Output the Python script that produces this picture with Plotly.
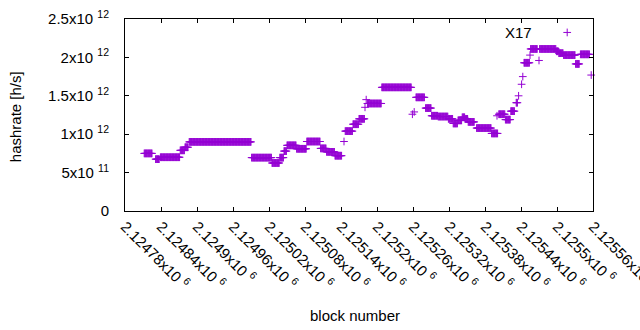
import plotly.graph_objects as go

# Runs of constant hashrate: first block, last block (exclusive), value [h/s]
run_start = [2124812, 2124831, 2124839, 2124872, 2124880, 2124887, 2124991, 2125025,
             2125038, 2125045, 2125050, 2125066, 2125083, 2125106, 2125116, 2125130,
             2125147, 2125160, 2125170, 2125184, 2125208, 2125265, 2125281, 2125291,
             2125302, 2125319, 2125327, 2125335, 2125342, 2125347, 2125352, 2125366,
             2125391, 2125403, 2125414, 2125423, 2125432, 2125445, 2125456, 2125471,
             2125499, 2125503, 2125511, 2125531, 2125539]
run_end = [2124826, 2124838, 2124872, 2124880, 2124886, 2124991, 2125025, 2125038,
           2125045, 2125050, 2125066, 2125083, 2125106, 2125116, 2125130, 2125142,
           2125160, 2125170, 2125180, 2125208, 2125258, 2125280, 2125291, 2125302,
           2125319, 2125327, 2125335, 2125342, 2125347, 2125352, 2125363, 2125391,
           2125402, 2125414, 2125423, 2125430, 2125435, 2125455, 2125468, 2125499,
           2125503, 2125511, 2125531, 2125538, 2125555]
run_value = [7.5e11, 6.75e11, 7.0e11, 7.9e11, 8.3e11, 9.0e11, 6.95e11, 6.25e11,
             6.95e11, 7.8e11, 8.55e11, 8.1e11, 9.05e11, 8.15e11, 7.7e11, 7.2e11,
             1.04e12, 1.13e12, 1.2e12, 1.4e12, 1.61e12, 1.48e12, 1.34e12, 1.24e12,
             1.23e12, 1.2e12, 1.14e12, 1.18e12, 1.22e12, 1.2e12, 1.16e12, 1.08e12,
             1.01e12, 1.26e12, 1.19e12, 1.3e12, 1.41e12, 1.93e12, 2.11e12, 2.11e12,
             2.08e12, 2.055e12, 2.03e12, 1.915e12, 2.04e12]

# Isolated blocks
single_block = [2125145, 2125180, 2125182, 2125259, 2125262, 2125400, 2125436,
                2125441, 2125443, 2125455, 2125470, 2125517, 2125557]
single_value = [9.05e11, 1.35e12, 1.45e12, 1.26e12, 1.29e12, 1.24e12, 1.5e12,
                1.65e12, 1.75e12, 2.03e12, 1.96e12, 2.325e12, 1.77e12]

x_tickvals = [2124780 + 60 * k for k in range(14)]
x_ticklabels = ["2.12478", "2.12484", "2.1249", "2.12496", "2.12502", "2.12508",
                "2.12514", "2.1252", "2.12526", "2.12532", "2.12538", "2.12544",
                "2.1255", "2.12556"]
y_tickvals = [0, 5e11, 1e12, 1.5e12, 2e12, 2.5e12]
y_ticklabels = ["0", "5x10 <sup>11</sup>", "1x10 <sup>12</sup>", "1.5x10 <sup>12</sup>",
                "2x10 <sup>12</sup>", "2.5x10 <sup>12</sup>"]

# decode runs into one point per block
xs, ys = [], []
for s, e, v in zip(run_start, run_end, run_value):
    for b in range(s, e):
        xs.append(b)
        ys.append(v)
xs += single_block
ys += single_value

FONT = "Liberation Sans, Arial, sans-serif"
COLOR = "#9400D3"

fig = go.Figure()
fig.add_trace(go.Scatter(
    x=xs, y=ys, mode="markers", cliponaxis=False,
    marker=dict(symbol="cross-thin", size=5.5, color=COLOR,
                line=dict(color=COLOR, width=1)),
    showlegend=False, hoverinfo="skip"))

axis_common = dict(showline=True, linecolor="black", linewidth=1, mirror="ticks",
                   ticks="inside", ticklen=4, tickcolor="black", tickwidth=1,
                   showgrid=False, zeroline=False, automargin=False,
                   ticklabeloverflow="allow",
                   tickfont=dict(family=FONT, size=15, color="black"))

fig.update_layout(
    width=640, height=330,
    margin=dict(l=125, r=47, t=19, b=119, pad=0),
    paper_bgcolor="white", plot_bgcolor="white",
    xaxis=dict(range=[2124780, 2125560], tickmode="array", tickvals=x_tickvals,
               ticktext=[t + "x10 <sup>6</sup>" for t in x_ticklabels],
               tickangle=45, **axis_common),
    yaxis=dict(range=[0, 2.5e12], tickmode="array", tickvals=y_tickvals,
               ticktext=y_ticklabels, ticklabelstandoff=12, **axis_common),
    annotations=[
        dict(text="block number", xref="paper", yref="paper", x=0.4925, y=-0.5417,
             xanchor="center", yanchor="middle", showarrow=False,
             font=dict(family=FONT, size=15, color="black")),
        dict(text="hashrate [h/s]", xref="paper", yref="paper", x=-0.234, y=0.491,
             xanchor="center", yanchor="middle", textangle=-90, showarrow=False,
             font=dict(family=FONT, size=15, color="black")),
        dict(text="X17", xref="paper", yref="paper", x=0.8408, y=0.932,
             xanchor="center", yanchor="middle", showarrow=False,
             font=dict(family=FONT, size=15, color="black")),
    ],
)

fig.write_html("out.html", config={"displayModeBar": False},
               post_script="document.body.style.margin='0';")
